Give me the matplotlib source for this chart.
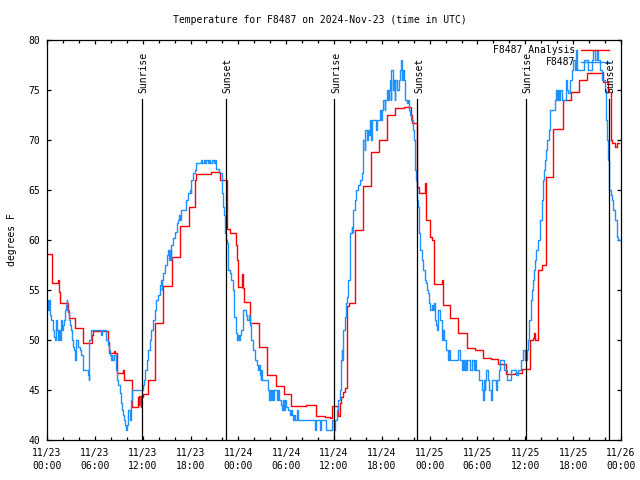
import matplotlib
matplotlib.use('Agg')
import matplotlib.pyplot as plt
from datetime import datetime, timedelta

# hours after 2024-11-23 00:00 UTC, temperatures in degrees F
analysis_hours = [
    0.0, 0.6, 0.67, 1.42, 1.55, 1.63, 2.6, 2.7, 3.5, 4.55, 5.6, 5.75, 7.6, 7.75, 8.4, 8.55,
    8.75, 9.5, 9.6, 10.6, 11.4, 11.5, 11.6, 11.75, 11.85, 12.05, 12.7, 13.55, 14.5, 15.65,
    16.7, 17.75, 18.55, 18.75, 20.55, 21.7, 22.6, 22.95, 23.7, 23.85, 23.92, 24.4, 24.6,
    24.75, 25.5, 26.6, 27.6, 28.7, 29.7, 30.55, 32.55, 33.7, 34.85, 35.55, 35.7, 36.55,
    36.7, 36.9, 37.15, 37.4, 37.6, 37.9, 38.65, 39.7, 40.6, 41.7, 42.6, 43.65, 44.8, 45.6,
    45.75, 46.45, 46.7, 47.4, 47.6, 48.05, 48.3, 48.55, 48.6, 49.6, 49.7, 50.6, 51.6, 52.65,
    53.7, 54.65, 55.7, 56.6, 57.6, 58.7, 59.55, 60.6, 60.9, 61.05, 61.2, 61.65, 62.05, 62.6,
    63.5, 64.7, 65.7, 66.75, 67.7, 69.6, 69.7, 70.4, 70.7, 70.85, 71.2, 71.45, 71.75,
]
analysis_temp = [
    58.6, 56.9, 55.7, 56.0, 54.8, 53.7, 52.8, 52.2, 51.2, 49.7, 50.5, 50.9, 49.8, 48.7, 48.9, 48.7,
    46.7, 47.0, 46.0, 43.3, 44.3, 43.5, 44.4, 43.3, 44.3, 44.6, 46.0, 51.7, 55.4, 58.3,
    61.4, 63.3, 66.0, 66.6, 66.8, 66.0, 61.1, 60.7, 59.5, 58.0, 55.3, 56.6, 55.2,
    53.8, 51.7, 49.3, 46.5, 45.4, 44.6, 43.4, 43.5, 42.4, 42.3, 42.2, 43.4, 42.4,
    43.7, 44.3, 44.8, 45.2, 53.4, 53.7, 61.0, 65.4, 68.8, 70.0, 72.5, 73.2, 73.3, 72.5,
    71.7, 65.3, 64.7, 65.7, 62.0, 60.3, 60.0, 59.7, 55.6, 56.0, 53.5, 52.2, 50.7, 49.2,
    49.0, 48.2, 48.1, 47.6, 46.6, 46.7, 47.1, 50.0, 50.2, 50.7, 50.0, 57.0, 57.5, 66.3,
    71.1, 74.0, 74.8, 76.0, 76.7, 76.8, 75.8, 74.8, 70.0, 69.7, 69.3, 69.7, 69.7,
]

obs_hours = [
    0.0, 0.1, 0.2, 0.35, 0.5, 0.7, 0.85, 1.0, 1.12, 1.27, 1.38, 1.5, 1.6, 1.72, 1.85, 2.0,
    2.12, 2.22, 2.35, 2.45, 2.55, 2.7, 2.85, 3.0, 3.12, 3.25, 3.35, 3.45, 3.55, 3.7, 3.9,
    4.1, 4.3, 4.5, 5.15, 5.25, 5.32, 5.5, 6.8, 6.95, 7.45, 7.6, 7.75, 7.9, 8.0, 8.1, 8.2,
    8.35, 8.6, 8.8, 8.95, 9.1, 9.25, 9.4, 9.55, 9.7, 9.82, 9.92, 10.05, 10.12, 10.35, 10.5,
    10.6, 12.1, 12.2, 12.3, 12.5, 12.7, 12.9, 13.1, 13.3, 13.5, 13.7, 13.95, 14.15, 14.3,
    14.4, 14.45, 14.6, 14.8, 15.0, 15.2, 15.3, 15.4, 15.5, 15.6, 15.85, 16.05, 16.25, 16.45,
    16.55, 16.65, 16.85, 17.4, 17.7, 17.9, 18.0, 18.1, 18.35, 18.55, 18.75, 19.35, 19.5,
    19.7, 19.85, 20.0, 20.2, 20.3, 20.5, 20.65, 20.9, 21.05, 21.25, 21.6, 21.9, 22.0, 22.1,
    22.2, 22.3, 22.45, 22.6, 22.7, 22.9, 23.1, 23.3, 23.5, 23.65, 23.8, 23.95, 24.1, 24.2,
    24.3, 24.6, 25.0, 25.1, 25.3, 25.45, 25.55, 25.65, 25.85, 26.05, 26.15, 26.3, 26.45,
    26.55, 26.7, 26.8, 26.85, 26.95, 27.75, 27.85, 27.95, 28.05, 28.2, 28.35, 28.45, 28.85,
    29.0, 29.15, 29.4, 29.5, 29.6, 29.75, 29.85, 30.0, 30.25, 30.45, 30.6, 30.7, 30.85,
    31.0, 31.1, 31.3, 31.45, 33.6, 33.7, 34.2, 34.35, 35.0, 35.8, 35.95, 36.1, 36.35, 36.5,
    36.7, 36.85, 36.95, 37.05, 37.15, 37.35, 37.5, 37.6, 37.75, 37.95, 38.05, 38.2, 38.3,
    38.4, 38.6, 38.8, 39.0, 39.2, 39.45, 39.65, 39.85, 39.95, 40.1, 40.25, 40.35, 40.5,
    40.7, 40.8, 41.3, 41.4, 41.75, 41.95, 42.05, 42.15, 42.35, 42.45, 42.6, 42.75, 42.85,
    43.0, 43.1, 43.2, 43.35, 43.5, 43.6, 43.7, 43.85, 44.1, 44.3, 44.45, 44.55, 44.65,
    44.75, 44.9, 45.1, 45.25, 45.35, 45.5, 45.7, 45.9, 46.0, 46.15, 46.2, 46.3, 46.35,
    46.45, 46.5, 46.6, 46.7, 46.8, 47.0, 47.2, 47.4, 47.55, 47.7, 47.85, 47.95, 48.05,
    48.25, 48.4, 48.5, 48.65, 48.8, 48.9, 49.0, 49.3, 49.5, 49.6, 49.7, 49.8, 50.1, 50.3,
    50.4, 50.55, 51.6, 51.75, 52.0, 52.15, 52.25, 52.4, 52.5, 52.65, 53.0, 53.25, 53.6,
    53.7, 53.8, 54.2, 54.6, 54.7, 54.8, 54.9, 55.0, 55.1, 55.3, 55.5, 55.7, 55.85, 56.3,
    56.45, 56.7, 56.85, 57.35, 57.7, 58.25, 58.85, 59.1, 59.45, 59.7, 60.0, 60.25, 60.38,
    60.5, 60.65, 60.7, 60.8, 60.92, 61.1, 61.2, 61.35, 61.6, 61.85, 62.05, 62.25, 62.35,
    62.45, 62.6, 62.75, 62.95, 63.05, 63.15, 63.7, 63.8, 63.95, 64.1, 64.25, 64.4, 64.6,
    65.05, 65.1, 65.2, 65.4, 65.6, 65.8, 66.0, 66.2, 66.35, 66.5, 67.3, 67.9, 68.3, 68.5,
    68.8, 68.95, 69.15, 69.4, 69.6, 70.0, 70.15, 70.25, 70.35, 70.45, 70.55, 70.7, 70.85,
    71.05, 71.25, 71.45, 71.65, 72.0,
]
obs_temp = [
    54.0, 53.0, 54.0, 52.5, 52.0, 51.0, 50.3, 50.0, 52.0, 51.0, 50.0, 51.0, 50.0, 52.0, 51.0, 51.5,
    52.0, 53.0, 53.5, 54.0, 53.0, 52.0, 51.5, 51.0, 50.0, 49.3, 49.0, 48.5, 48.0, 50.0, 49.3,
    49.0, 48.5, 47.0, 46.5, 46.0, 50.0, 51.0, 50.5, 51.0, 50.0, 49.5, 49.0, 48.5, 48.0, 48.5, 48.0,
    48.5, 47.0, 46.0, 45.5, 44.7, 43.7, 43.0, 42.5, 42.0, 41.5, 41.0, 41.5, 43.0, 42.0, 44.0,
    45.0, 45.5, 46.0, 47.0, 48.0, 49.0, 50.0, 51.0, 52.0, 53.0, 54.0, 54.5, 55.5, 56.0,
    55.0, 56.0, 56.7, 57.5, 58.5, 59.0, 58.0, 59.0, 58.0, 59.5, 60.2, 60.8, 61.7, 62.0,
    62.5, 62.0, 63.0, 64.0, 64.7, 65.0, 64.7, 66.0, 66.7, 67.0, 67.7, 68.0, 67.7,
    68.0, 67.7, 68.0, 67.7, 68.0, 67.7, 68.0, 67.7, 68.0, 67.1, 66.7, 65.7, 64.7, 63.3,
    62.5, 60.7, 60.0, 59.7, 57.0, 56.7, 56.0, 55.0, 52.3, 50.7, 50.0, 50.5, 50.0, 50.5,
    51.0, 53.0, 52.5, 52.0, 52.5, 51.5, 51.0, 50.0, 49.0, 48.5, 48.0, 47.5, 47.0,
    47.5, 46.5, 46.0, 47.0, 46.0, 45.0, 44.0, 45.0, 44.0, 45.0, 44.0, 45.0, 44.0,
    45.0, 44.0, 43.5, 43.0, 44.0, 43.0, 44.0, 43.3, 43.0, 42.5, 43.0, 42.5, 42.0,
    42.5, 42.0, 43.0, 42.0, 41.0, 42.0, 41.0, 42.0, 41.0, 42.0, 41.0, 42.0, 43.0, 44.0,
    45.0, 48.0, 49.0, 48.0, 51.0, 52.3, 53.7, 54.3, 56.0, 58.0, 60.7, 61.3, 60.8,
    63.0, 64.0, 65.0, 65.5, 66.0, 66.7, 70.0, 69.0, 71.0, 70.0, 71.0, 70.5, 72.0,
    70.0, 72.0, 71.0, 72.0, 73.0, 72.0, 73.0, 74.0, 73.0, 74.0, 75.0, 74.0, 75.0,
    76.0, 74.0, 77.0, 75.0, 76.0, 74.0, 76.0, 75.0, 76.0, 77.0, 78.0, 76.0, 77.0,
    76.0, 74.0, 73.7, 74.0, 73.0, 72.5, 72.0, 71.0, 70.0, 68.3, 67.0, 66.0, 64.7,
    64.0, 63.3, 62.0, 60.7, 59.0, 58.0, 57.0, 56.0, 55.7, 55.0, 54.7, 53.7, 53.0,
    53.5, 53.0, 53.7, 52.0, 51.5, 51.0, 53.0, 52.0, 50.5, 50.0, 51.0, 50.0, 49.0, 48.0,
    49.0, 48.0, 49.0, 48.0, 47.0, 48.0, 47.0, 48.0, 47.0, 48.0, 47.0, 48.0, 47.0,
    48.0, 47.0, 46.0, 45.0, 44.0, 46.0, 45.0, 46.0, 47.0, 46.0, 45.0, 44.0, 46.0, 45.0,
    46.0, 47.0, 48.0, 47.0, 46.0, 47.0, 46.5, 47.0, 48.0, 49.0, 48.0, 49.0, 50.0,
    52.0, 53.0, 54.0, 55.0, 56.0, 57.0, 58.0, 59.0, 60.0, 62.0, 64.0, 66.0, 67.0,
    68.0, 69.0, 70.0, 71.0, 72.0, 73.0, 74.0, 75.0, 74.0, 75.0, 74.0, 75.0, 74.0,
    75.0, 76.0, 75.0, 74.7, 76.0, 77.0, 78.0, 77.0, 79.0, 77.0, 78.0, 77.0, 78.0, 79.0,
    78.0, 79.0, 78.0, 77.0, 76.0, 75.0, 72.0, 70.0, 68.0, 66.7, 65.0, 64.5, 64.0,
    63.0, 62.0, 60.3, 60.0, 60.0,
]

sunrise_hours = [11.95, 36.05, 60.05]
sunset_hours = [22.4, 46.45, 70.5]
tick_hours = list(range(0, 73, 6))
start = datetime(2024, 11, 23)

plt.rcParams['font.family'] = 'DejaVu Sans Mono'
plt.rcParams['font.size'] = 7

fig = plt.figure(figsize=(6.4, 4.8), dpi=100)
ax = fig.add_axes([47/640, 40/480, 574/640, 400/480])

ax.plot(analysis_hours, analysis_temp, color='#ff0000', lw=1.0, drawstyle='steps-post')
ax.plot(obs_hours, obs_temp, color='#1e90ff', lw=1.0, drawstyle='steps-post')

for h in sunrise_hours:
    ax.plot([h, h], [40, 74.1], color='black', lw=0.9)
    ax.text(h + 0.2, 74.7, 'Sunrise', rotation=90, ha='center', va='bottom')
for h in sunset_hours:
    ax.plot([h, h], [40, 74.1], color='black', lw=0.9)
    ax.text(h + 0.2, 74.7, 'Sunset', rotation=90, ha='center', va='bottom')

# legend, gnuplot style: text right aligned, sample line to the right
ax.text(0.920, 0.975, 'F8487 Analysis', transform=ax.transAxes, ha='right', va='center')
ax.plot([0.930, 0.979], [0.975, 0.975], transform=ax.transAxes, color='#ff0000', lw=1.0)
ax.text(0.920, 0.945, 'F8487', transform=ax.transAxes, ha='right', va='center')
ax.plot([0.930, 0.979], [0.945, 0.945], transform=ax.transAxes, color='#1e90ff', lw=1.0)

ax.set_xlim(0, 72)
ax.set_ylim(40, 80)
ax.set_xticks(tick_hours)
ax.set_xticklabels([(start + timedelta(hours=h)).strftime('%m/%d\n%H:%M') for h in tick_hours],
                   linespacing=1.35)
ax.set_xticks(range(0, 73, 2), minor=True)
ax.set_yticks(range(40, 81, 5))
ax.tick_params(which='both', direction='in', top=True, right=True, width=0.9)
ax.tick_params(which='major', length=3.2)
ax.tick_params(which='minor', length=2.2)
ax.tick_params(axis='x', pad=6)
ax.tick_params(axis='y', pad=5)
for s in ax.spines.values():
    s.set_linewidth(0.9)

fig.text(0.5, 1 - 20/480, 'Temperature for F8487 on 2024-Nov-23 (time in UTC)', ha='center', va='center')
fig.text(12/640, 0.5, 'degrees F', rotation=90, ha='center', va='center')

fig.savefig('out.png', dpi=100)
